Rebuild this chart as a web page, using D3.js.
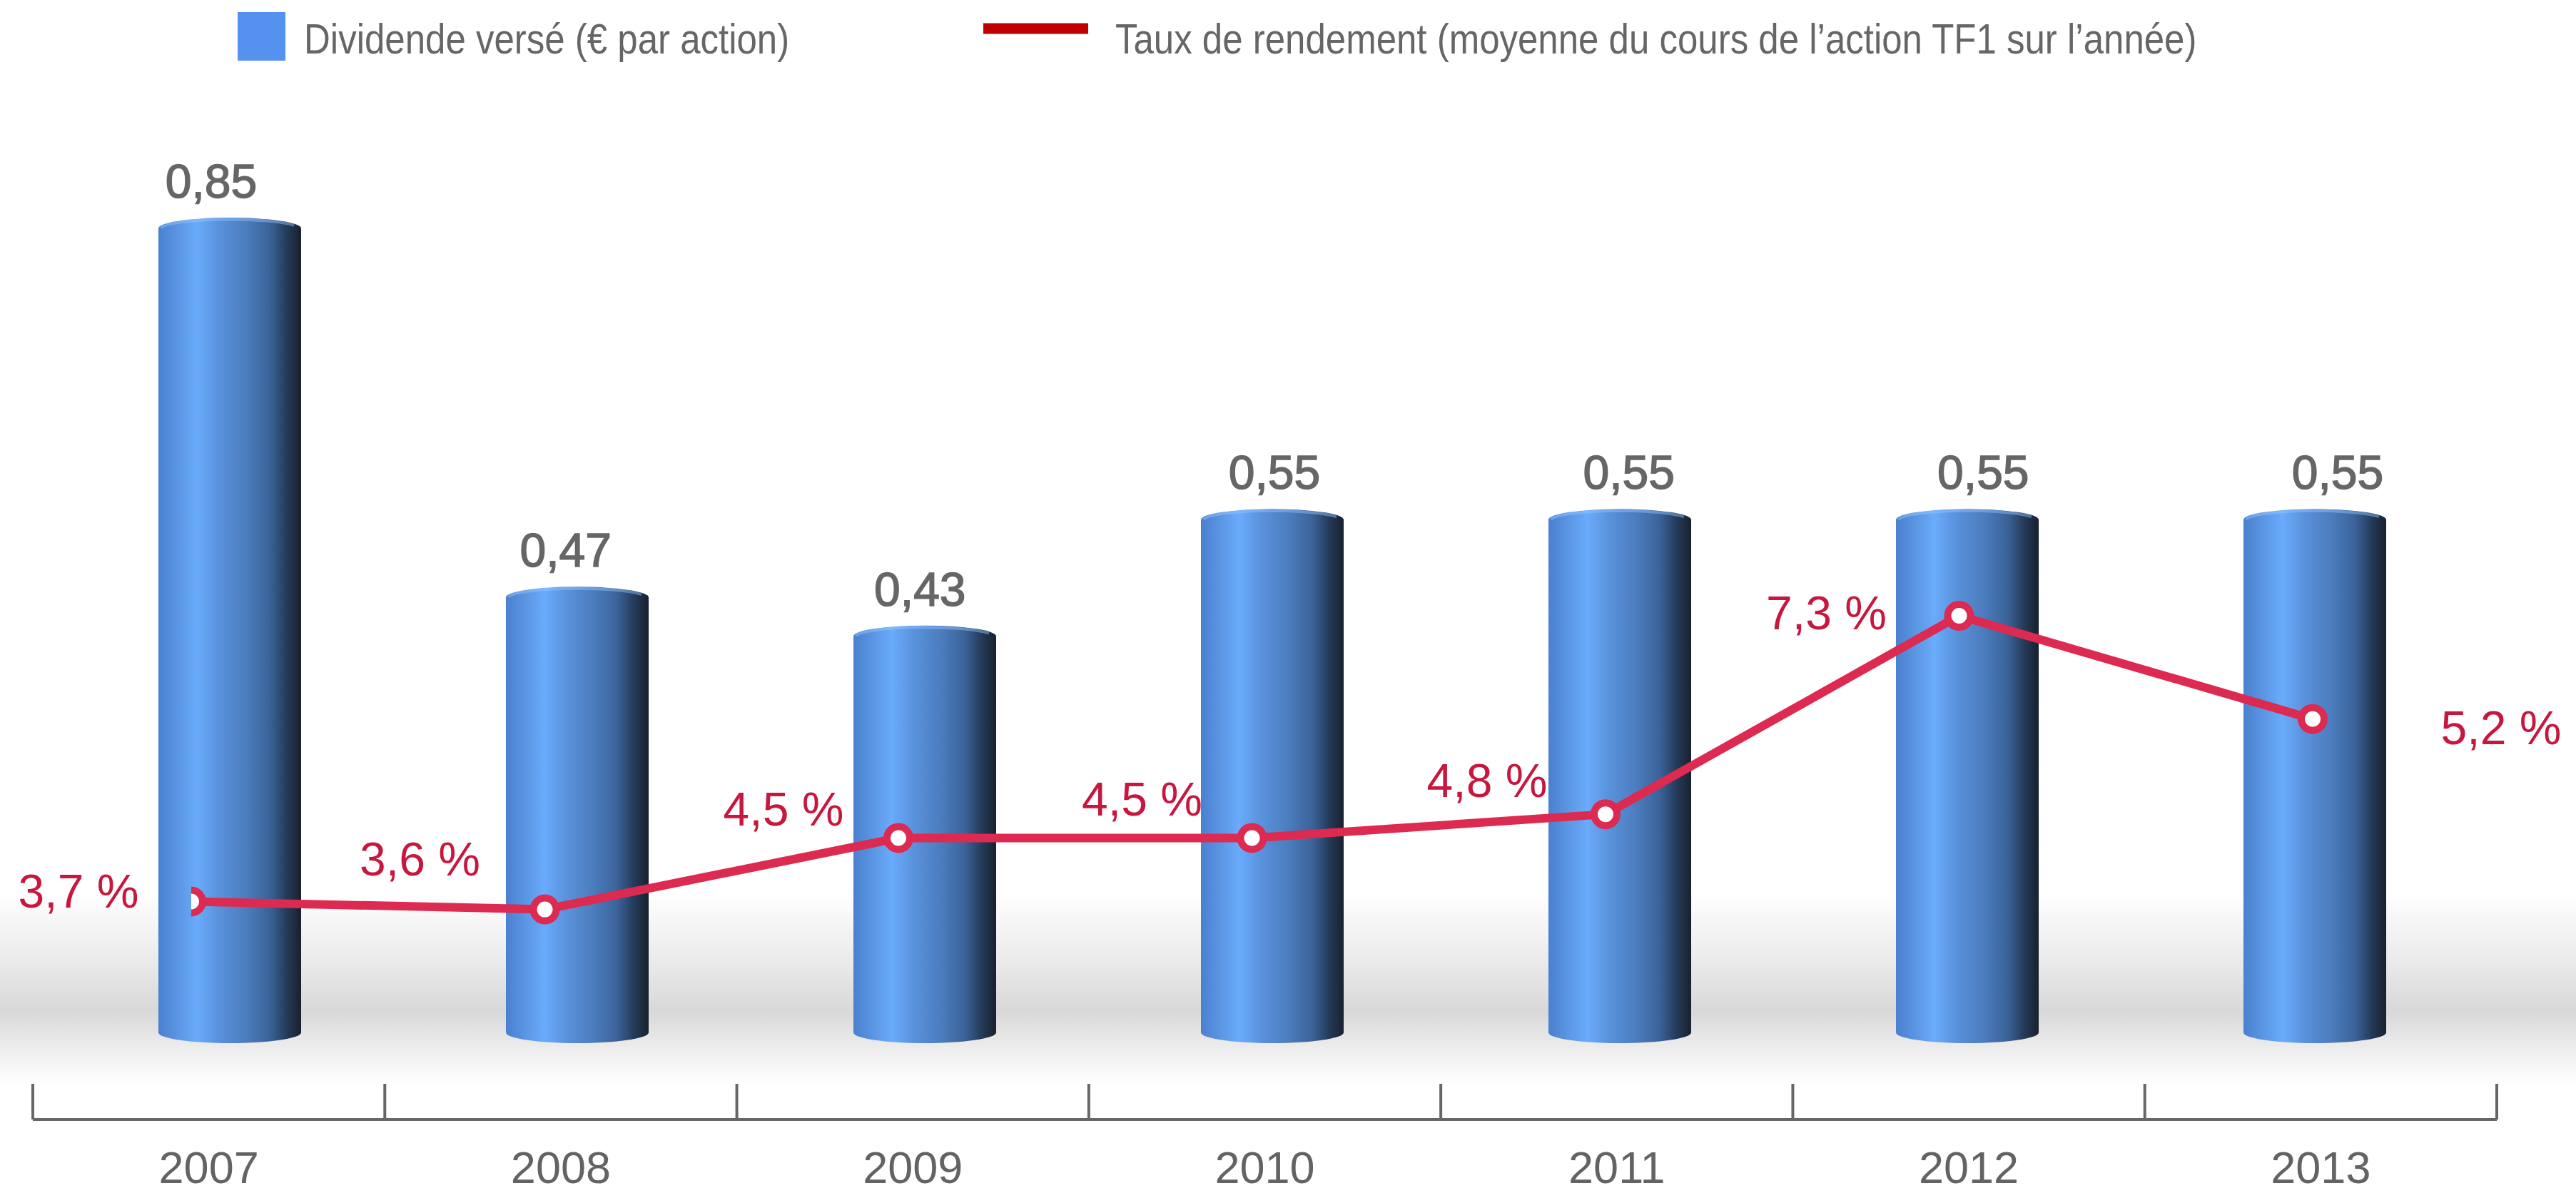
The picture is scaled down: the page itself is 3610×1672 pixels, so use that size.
<!DOCTYPE html>
<html>
<head>
<meta charset="utf-8">
<script src="https://cdn.jsdelivr.net/npm/d3@7"></script>
<style>
  html, body { margin: 0; padding: 0; background: #fff; }
  svg { display: block; font-family: "Liberation Sans", Arial, sans-serif; }
</style>
</head>
<body>
<div id="chart"></div>
<script>
// data
const years = ["2007", "2008", "2009", "2010", "2011", "2012", "2013"];
const dividends = [0.85, 0.47, 0.43, 0.55, 0.55, 0.55, 0.55];
const dividendLabels = ["0,85", "0,47", "0,43", "0,55", "0,55", "0,55", "0,55"];
// where the points sit on the picture (2013 point is drawn higher than its label says)
const yieldValues = [3.7, 3.6, 4.5, 4.5, 4.8, 7.3, 6.0];
const yieldLabels = ["3,7 %", "3,6 %", "4,5 %", "4,5 %", "4,8 %", "7,3 %", "5,2 %"];
const legendBar = "Dividende versé (€ par action)";
const legendLine = "Taux de rendement (moyenne du cours de l’action TF1 sur l’année)";

// layout
const W = 3610, H = 1672;
const labelOffsets = [[-158, 9], [-175, -48], [-161, -18], [-154, -32], [-166, -24], [-186, 19], [264, 35]];
const barW = 200, capRy = 15;
const textGrey = "#666666", lineRed = "#dc2a50", labelRed = "#c8173f";

const svg = d3.select("#chart").append("svg")
    .attr("width", W)
    .attr("height", H);

const defs = svg.append("defs");

// cylinder shading
const barGrad = defs.append("linearGradient")
    .attr("id", "barGrad")
    .attr("x1", 0).attr("x2", 1).attr("y1", 0).attr("y2", 0);
[[0, "#4a80cf"], [0.12, "#5893e0"], [0.27, "#6aabfb"], [0.42, "#5a92dc"],
 [0.62, "#4b7cbd"], [0.78, "#3b6399"], [0.9, "#243a58"], [1, "#18212e"]]
    .forEach(s => barGrad.append("stop").attr("offset", s[0]).attr("stop-color", s[1]));

// floor shadow
const floorGrad = defs.append("linearGradient")
    .attr("id", "floorGrad")
    .attr("x1", 0).attr("x2", 0).attr("y1", 0).attr("y2", 1);
[[0, "#ffffff"], [0.35, "#ebebeb"], [0.62, "#d8d8d8"], [0.85, "#f1f1f1"], [1, "#ffffff"]]
    .forEach(s => floorGrad.append("stop").attr("offset", s[0]).attr("stop-color", s[1]));

svg.append("rect")
    .attr("x", 0).attr("y", 1250)
    .attr("width", W).attr("height", 270)
    .attr("fill", "url(#floorGrad)");

// scales
const xAxis = d3.scaleBand().domain(years).range([46, 3499]).padding(0);
const xBar = d3.scalePoint().domain(years).range([322, 3244]);
const xLine = d3.scalePoint().domain(years).range([268, 3241]);
const xVal = d3.scalePoint().domain(years).range([296, 3276]);

const yBar = d3.scaleLinear().domain([0, 0.85]).range([1462, 305]);
const yRate = d3.scaleLinear().domain([0, 9]).range([1675, 674]);

// legend
svg.append("rect")
    .attr("x", 333).attr("y", 17)
    .attr("width", 67).attr("height", 68)
    .attr("fill", "#5591ef");
svg.append("text")
    .attr("transform", "translate(426,75) scale(0.85,1)")
    .attr("font-size", 60)
    .attr("fill", textGrey)
    .text(legendBar);

svg.append("line")
    .attr("x1", 1378).attr("x2", 1525)
    .attr("y1", 40).attr("y2", 40)
    .attr("stroke", "#c00000")
    .attr("stroke-width", 15);
svg.append("text")
    .attr("transform", "translate(1563,75) scale(0.85,1)")
    .attr("font-size", 60)
    .attr("fill", textGrey)
    .text(legendLine);

// cylinders
function cylinder(cx, top, bottom) {
    const l = cx - barW / 2, r = cx + barW / 2, rx = barW / 2;
    return `M${l},${top + capRy} A${rx},${capRy} 0 0 1 ${r},${top + capRy}` +
        ` L${r},${bottom - capRy} A${rx},${capRy} 0 0 1 ${l},${bottom - capRy} Z`;
}

const bars = svg.append("g");
bars.selectAll("path.bar")
    .data(dividends)
    .enter()
    .append("path")
    .attr("class", "bar")
    .attr("d", (d, i) => cylinder(xBar(years[i]), yBar(d), yBar(0)))
    .attr("fill", "url(#barGrad)");

// light rim on the top edge
bars.selectAll("path.rim")
    .data(dividends)
    .enter()
    .append("path")
    .attr("class", "rim")
    .attr("d", (d, i) => {
        const cx = xBar(years[i]), t = yBar(d);
        return `M${cx - barW / 2 + 4},${t + capRy} A${barW / 2 - 4},${capRy - 2} 0 0 1 ${cx + barW / 2 - 10},${t + capRy - 4}`;
    })
    .attr("fill", "none")
    .attr("stroke", "rgba(150,200,255,0.45)")
    .attr("stroke-width", 4);

svg.selectAll(".val")
    .data(dividends)
    .enter()
    .append("text")
    .attr("class", "val")
    .attr("x", (d, i) => xVal(years[i]))
    .attr("y", d => yBar(d) - 28)
    .attr("text-anchor", "middle")
    .attr("font-size", 66)
    .attr("fill", textGrey)
    .attr("stroke", textGrey)
    .attr("stroke-width", 1.5)
    .text((d, i) => dividendLabels[i]);

// yield line
defs.append("clipPath")
    .attr("id", "lineClip")
    .append("rect")
    .attr("x", xLine(years[0]))
    .attr("y", 0)
    .attr("width", W)
    .attr("height", H);

const lineG = svg.append("g").attr("clip-path", "url(#lineClip)");

const line = d3.line()
    .x((d, i) => xLine(years[i]))
    .y(d => yRate(d));

lineG.append("path")
    .datum(yieldValues)
    .attr("fill", "none")
    .attr("stroke", lineRed)
    .attr("stroke-width", 12)
    .attr("stroke-linejoin", "round")
    .attr("d", line);

lineG.selectAll("circle")
    .data(yieldValues)
    .enter()
    .append("circle")
    .attr("cx", (d, i) => xLine(years[i]))
    .attr("cy", d => yRate(d))
    .attr("r", 16)
    .attr("fill", "#fff")
    .attr("stroke", lineRed)
    .attr("stroke-width", 10);

svg.selectAll(".rate")
    .data(yieldValues)
    .enter()
    .append("text")
    .attr("class", "rate")
    .attr("x", (d, i) => xLine(years[i]) + labelOffsets[i][0])
    .attr("y", (d, i) => yRate(d) + labelOffsets[i][1])
    .attr("text-anchor", "middle")
    .attr("font-size", 66)
    .attr("fill", labelRed)
    .text((d, i) => yieldLabels[i]);

// x axis: year labels from the band scale, separators at band edges
const axisY = 1569;
const axisG = svg.append("g")
    .attr("transform", `translate(0,${axisY})`)
    .call(d3.axisBottom(xAxis).tickSize(0).tickPadding(44));
axisG.select(".domain").remove();
axisG.selectAll("text")
    .attr("font-size", 63)
    .attr("font-family", "\"Liberation Sans\", Arial, sans-serif")
    .attr("fill", "#636363");

svg.append("line")
    .attr("x1", xAxis.range()[0]).attr("x2", xAxis.range()[1])
    .attr("y1", axisY).attr("y2", axisY)
    .attr("stroke", "#666")
    .attr("stroke-width", 4);

const edges = years.map(y => xAxis(y)).concat([xAxis.range()[1]]);
svg.selectAll(".sep")
    .data(edges)
    .enter()
    .append("line")
    .attr("class", "sep")
    .attr("x1", d => d).attr("x2", d => d)
    .attr("y1", axisY - 50).attr("y2", axisY)
    .attr("stroke", "#666")
    .attr("stroke-width", 4);
</script>
</body>
</html>
